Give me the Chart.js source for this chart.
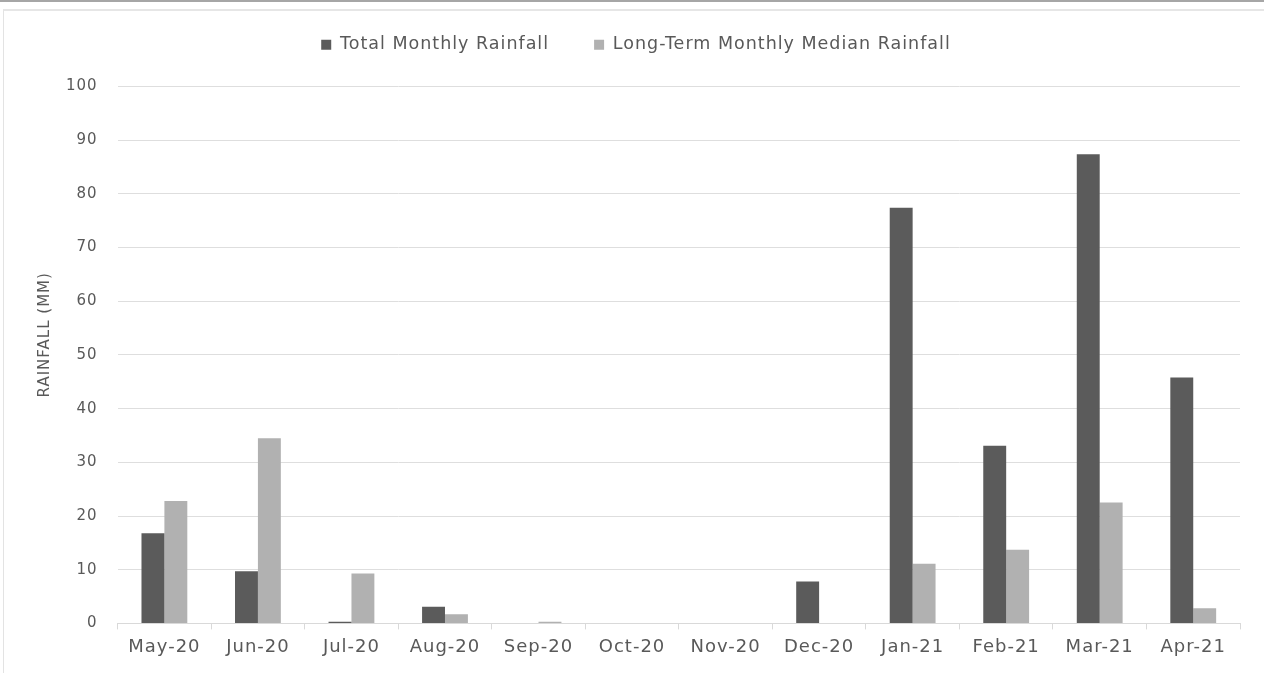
<!DOCTYPE html>
<html>
<head>
<meta charset="utf-8">
<script src="https://cdn.jsdelivr.net/npm/chart.js@4.4.1/dist/chart.umd.min.js"></script>
<style>
  html, body { margin: 0; padding: 0; background: #fff; }
  #topline { position: absolute; left: 0; top: 0; width: 1264px; height: 2px; background: #a6a6a6; }
  #frame { position: absolute; left: 3px; top: 9px; width: 1261px; height: 664px; border-left: 1px solid #e3e3e3; border-top: 2px solid #e6e6e6; box-sizing: border-box; }
  #wrap { position: absolute; left: 0; top: 0; width: 1264px; height: 673px; }
</style>
</head>
<body>
<div id="topline"></div>
<div id="frame"></div>
<div id="wrap"><canvas id="rainChart"></canvas></div>
<script>
const months = ['May-20', 'Jun-20', 'Jul-20', 'Aug-20', 'Sep-20', 'Oct-20', 'Nov-20', 'Dec-20', 'Jan-21', 'Feb-21', 'Mar-21', 'Apr-21'];
const totalRainfall = [16.8, 9.7, 0.3, 3.1, 0, 0, 0, 7.8, 77.4, 33.1, 87.4, 45.8];
const medianRainfall = [22.8, 34.5, 9.3, 1.7, 0.3, 0, 0, 0, 11.1, 13.7, 22.5, 2.8];
const yTicks = [0, 10, 20, 30, 40, 50, 60, 70, 80, 90, 100];

const font = "'DejaVu Sans', sans-serif";
const textColor = '#595959';

// the original font is a very wide one, so space the letters out a bit
const spacing = {
  id: 'spacing',
  beforeUpdate: chart => { chart.ctx.letterSpacing = '1px'; },
  beforeDraw: chart => { chart.ctx.letterSpacing = '1px'; }
};

// extra room under the legend
const legendGap = {
  id: 'legendGap',
  beforeInit(chart) {
    const fit = chart.legend.fit;
    chart.legend.fit = function () {
      fit.bind(chart.legend)();
      this.height += 23;
    };
  }
};

const ctx = document.getElementById('rainChart').getContext('2d');
const chart = new Chart(ctx, {
  type: 'bar',
  data: {
    labels: months,
    datasets: [{
      label: 'Total Monthly Rainfall',
      data: totalRainfall,
      backgroundColor: '#5b5b5b',
      categoryPercentage: 0.49,
      barPercentage: 1.0
    }, {
      label: 'Long-Term Monthly Median Rainfall',
      data: medianRainfall,
      backgroundColor: '#b1b1b1',
      categoryPercentage: 0.49,
      barPercentage: 1.0
    }]
  },
  plugins: [spacing, legendGap],
  options: {
    responsive: true,
    maintainAspectRatio: false,
    animation: false,
    layout: { padding: { left: 32, right: 24, top: -9, bottom: 8 } },
    plugins: {
      legend: {
        position: 'top',
        labels: {
          font: { family: font, size: 17.5 },
          color: textColor,
          boxWidth: 10,
          boxHeight: 10,
          padding: 45
        }
      },
      tooltip: { enabled: false }
    },
    scales: {
      x: {
        grid: { drawOnChartArea: false, drawTicks: true, tickLength: 6, color: '#d9d9d9' },
        border: { color: '#d9d9d9' },
        ticks: { font: { family: font, size: 18 }, color: textColor, padding: 7, maxRotation: 0 }
      },
      y: {
        min: 0,
        max: 100,
        afterBuildTicks: axis => { axis.ticks = yTicks.map(v => ({ value: v })); },
        grid: { color: '#dedede', drawTicks: false },
        border: { display: false },
        ticks: { font: { family: font, size: 15 }, color: textColor, padding: 20 },
        title: {
          display: true,
          text: '       RAINFALL (MM)',
          font: { family: font, size: 15 },
          color: textColor,
          padding: { top: 4, bottom: -8 }
        }
      }
    }
  }
});
</script>
</body>
</html>
